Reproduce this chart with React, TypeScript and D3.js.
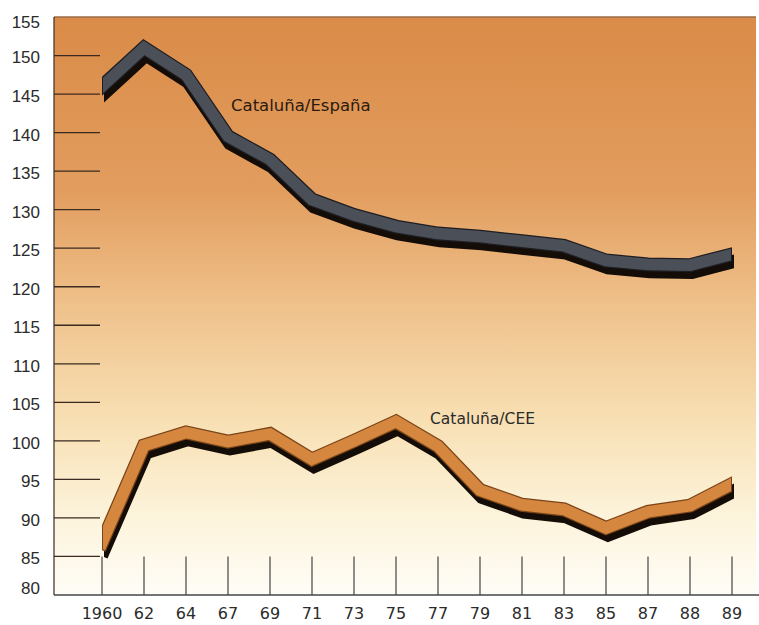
import React from 'react';
import * as d3 from 'd3';

// years on the x axis (as printed)
const years = ['1960', '62', '64', '67', '69', '71', '73', '75', '77', '79', '81', '83', '85', '87', '88', '89'];
// index values
const espana = [146, 151, 147.5, 139.5, 136.5, 131.3, 129.3, 127.8, 126.9, 126.5, 125.9, 125.3, 123.4, 122.9, 122.8, 124.2];
const cee = [86.8, 99.4, 101.1, 99.9, 100.9, 97.6, 100, 102.5, 99.3, 93.6, 91.7, 91.1, 88.7, 90.8, 91.6, 94.4];
const yTicks = d3.range(80, 156, 5);

const W = 759;
const H = 625;
const left = 54;
const right = 756;
const top = 17;
const bottom = 595;

const App: React.FC = () => {
    const x = d3.scalePoint<string>().domain(years).range([102, 732]);
    const y = d3.scaleLinear().domain([80, 155]).range([bottom, top]);

    const line = d3.line<number>()
        .x((_, i) => x(years[i]) as number)
        .y(d => y(d));

    const x0 = x(years[0]) as number;
    const x1 = x(years[years.length - 1]) as number;

    // ribbon with a dropped shadow, ends cut vertically
    const ribbon = (vals: number[], fill: string, edge: string, key: string) => (
        <g key={key}>
            <g transform="translate(2,7)">
                <path d={line(vals) || ''} fill="none" stroke="#140c06" strokeWidth={13.5}
                    strokeLinecap="square" clipPath="url(#ends)" />
            </g>
            <path d={line(vals) || ''} fill="none" stroke={edge} strokeWidth={14}
                strokeLinecap="square" clipPath="url(#ends)" />
            <path d={line(vals) || ''} fill="none" stroke={fill} strokeWidth={11.5}
                strokeLinecap="square" clipPath="url(#ends2)" />
        </g>
    );

    return (
        <svg width={W} height={H} style={{ position: 'absolute', left: 0, top: 0, background: '#fff' }}>
            <defs>
                <linearGradient id="bg" x1="0" y1="0" x2="0" y2="1">
                    <stop offset="0" stopColor="#da8b48" />
                    <stop offset="0.3" stopColor="#e29d5e" />
                    <stop offset="0.5" stopColor="#efc18b" />
                    <stop offset="0.7" stopColor="#f8e0b4" />
                    <stop offset="0.86" stopColor="#fcf3da" />
                    <stop offset="1" stopColor="#fffdf7" />
                </linearGradient>
                <clipPath id="ends" clipPathUnits="userSpaceOnUse">
                    <rect x={x0} y={0} width={x1 - x0} height={H} />
                </clipPath>
                <clipPath id="ends2" clipPathUnits="userSpaceOnUse">
                    <rect x={x0 + 1} y={0} width={x1 - x0 - 2} height={H} />
                </clipPath>
            </defs>

            <rect x={left} y={top} width={right - left} height={bottom - top} fill="url(#bg)" />
            <line x1={left} x2={right} y1={top} y2={top} stroke="#9a6a48" strokeWidth={1.5} />

            {/* y axis */}
            <line x1={left} x2={left} y1={top} y2={bottom} stroke="#4a3a30" strokeWidth={1.3} />
            {yTicks.filter(t => t > 80 && t < 155).map(t => (
                <line key={'t' + t} x1={left} x2={100} y1={y(t)} y2={y(t)} stroke="#3a2a20" strokeWidth={1.3} />
            ))}
            {yTicks.map(t => (
                <text key={'l' + t} x={40} y={y(t) + (t === 155 ? 5 : t === 80 ? -7 : 2)} dy="0.35em" textAnchor="end"
                    fontFamily="'Liberation Sans', Arial, sans-serif" fontSize={17} fill="#2b2b2b">{t}</text>
            ))}

            {/* x axis */}
            <line x1={left} x2={W} y1={bottom} y2={bottom} stroke="#444" strokeWidth={1.3} />
            {years.map(yr => (
                <g key={yr}>
                    <line x1={x(yr)} x2={x(yr)} y1={y(85)} y2={bottom} stroke="#444" strokeWidth={1.2} />
                    <text x={x(yr)} y={619} textAnchor="middle"
                        fontFamily="'DejaVu Sans', Verdana, sans-serif" fontSize={16} fill="#2b2b2b">{yr}</text>
                </g>
            ))}

            {ribbon(espana, '#4b4f58', '#1e1e22', 'esp')}
            {ribbon(cee, '#d5873f', '#7a4418', 'cee')}

            <text x={231} y={111} fontFamily="'DejaVu Sans', Verdana, sans-serif" fontSize={16.5} fill="#2a1a10">Cataluña/España</text>
            <text x={430} y={424} fontFamily="'DejaVu Sans', Verdana, sans-serif" fontSize={15.5} fill="#2a2a2a">Cataluña/CEE</text>
        </svg>
    );
};

export default App;
